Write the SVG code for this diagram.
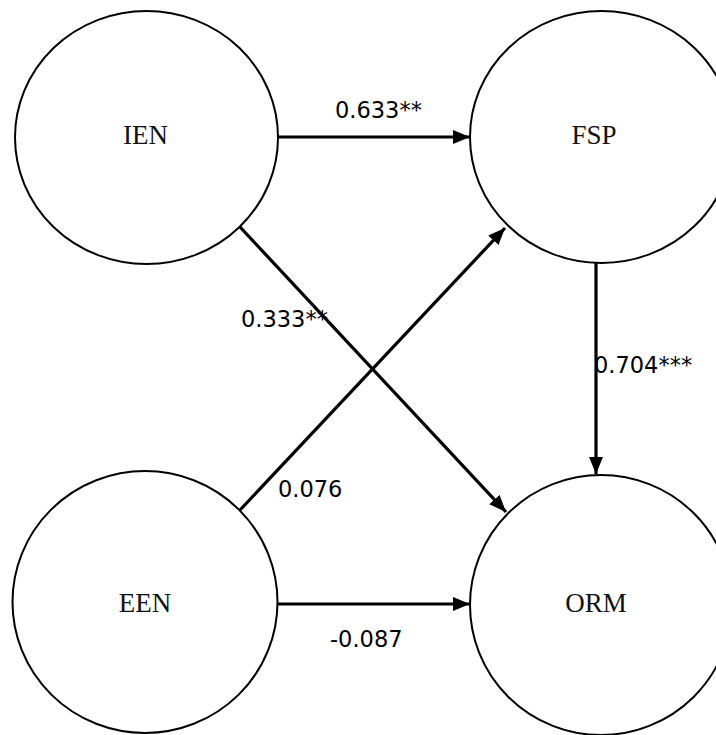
<svg xmlns="http://www.w3.org/2000/svg" width="716" height="735" viewBox="0 0 716 735">
  <style>
    .node { fill: #ffffff; stroke: #000000; stroke-width: 2; }
    .nlabel { font-family: "Liberation Serif", "Times New Roman", serif; font-size: 27px; fill: #111111; text-anchor: middle; }
    .elabel { font-family: "DejaVu Sans", sans-serif; font-size: 22.5px; fill: #000000; }
    .edge { stroke: #000000; stroke-width: 3.2; fill: none; marker-end: url(#arrow); }
  </style>
  <defs>
    <marker id="arrow" viewBox="0 0 17 14" refX="17" refY="7" markerWidth="17" markerHeight="14" markerUnits="userSpaceOnUse" orient="auto">
      <path d="M0,0 L17,7 L0,14 Z" fill="#000000"/>
    </marker>
  </defs>
  <rect width="716" height="735" fill="#ffffff"/>
  <g id="node-IEN">
    <ellipse class="node" cx="146.5" cy="137.5" rx="131.5" ry="126.5"/>
    <text class="nlabel" x="145.5" y="144">IEN</text>
  </g>
  <g id="node-FSP">
    <ellipse class="node" cx="601.5" cy="137" rx="131.5" ry="126"/>
    <text class="nlabel" x="594" y="144">FSP</text>
  </g>
  <g id="node-EEN">
    <ellipse class="node" cx="145" cy="602" rx="132.5" ry="131"/>
    <text class="nlabel" x="145" y="611.5">EEN</text>
  </g>
  <g id="node-ORM">
    <ellipse class="node" cx="601" cy="605" rx="131" ry="130"/>
    <text class="nlabel" x="596" y="611.5">ORM</text>
  </g>
  <g id="edge-labels">
    <text class="elabel" x="335" y="118">0.633**</text>
    <text class="elabel" x="241" y="326.5">0.333**</text>
    <text class="elabel" x="594" y="373">0.704***</text>
    <text class="elabel" x="278" y="496.5">0.076</text>
    <text class="elabel" x="330" y="646.5">-0.087</text>
  </g>
  <g id="connectors">
    <line class="edge" x1="278" y1="137" x2="470" y2="137"/>
    <line class="edge" x1="278" y1="604" x2="470" y2="604"/>
    <line class="edge" x1="596" y1="263" x2="596" y2="474"/>
    <line class="edge" x1="240" y1="227" x2="506" y2="512"/>
    <line class="edge" x1="240" y1="510" x2="505" y2="228"/>
  </g>
</svg>
